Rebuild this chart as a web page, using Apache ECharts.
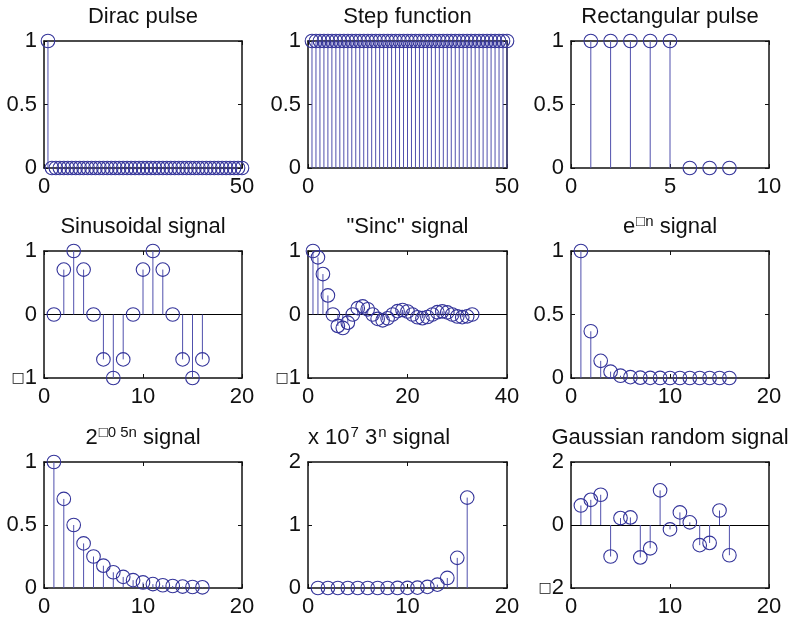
<!DOCTYPE html>
<html>
<head>
<meta charset="utf-8">
<script src="https://cdn.jsdelivr.net/npm/echarts@6/dist/echarts.min.js"></script>
<style>html,body{margin:0;padding:0;background:#fff}#c{width:794px;height:621px}</style>
</head>
<body>
<div id="c"></div>
<script>
// ---- data ----
const diracVals = [1,0,0,0,0,0,0,0,0,0, 0,0,0,0,0,0,0,0,0,0, 0,0,0,0,0,0,0,0,0,0, 0,0,0,0,0,0,0,0,0,0, 0,0,0,0,0,0,0,0,0,0];
const stepVals  = [1,1,1,1,1,1,1,1,1,1, 1,1,1,1,1,1,1,1,1,1, 1,1,1,1,1,1,1,1,1,1, 1,1,1,1,1,1,1,1,1,1, 1,1,1,1,1,1,1,1,1,1];
const rectVals  = [1,1,1,1,1,0,0,0];
const sinVals   = [0,0.707,1,0.707,0,-0.707,-1,-0.707,0,0.707,1,0.707,0,-0.707,-1,-0.707];
const sincVals  = [1,0.90,0.637,0.30,0,-0.18,-0.212,-0.129,0,0.10,0.127,0.082,0,-0.069,-0.091,-0.06,0,0.053,0.071,0.047,0,-0.043,-0.058,-0.039,0,0.036,0.049,0.033,0,-0.031,-0.042,-0.029,0];
const expVals   = [1,0.368,0.135,0.050,0.018,0.0067,0.0025,0.0009,0.0003,0.0001,0,0,0,0,0,0];
const pow2Vals  = [1,0.707,0.5,0.354,0.25,0.177,0.125,0.088,0.0625,0.044,0.031,0.022,0.016,0.011,0.0078,0.0055];
const pow3Vals  = [1,3,9,27,81,243,729,2187,6561,19683,59049,177147,531441,1594323,4782969,14348907];
const gaussVals = [0.62,0.80,0.96,-1.00,0.22,0.24,-1.03,-0.74,1.10,-0.14,0.40,0.085,-0.64,-0.57,0.46,-0.96];

const titles = [
  'Dirac pulse', 'Step function', 'Rectangular pulse',
  'Sinusoidal signal', '"Sinc" signal', '{n|e}{s|□n}{n| signal}',
  '{n|2}{s|□0 5n}{n| signal}', '{n|3}{s|n}{n| signal}', 'Gaussian random signal'
];
const xTicks = [[0,50,50],[0,50,50],[0,10,5],[0,20,10],[0,40,20],[0,20,10],[0,20,10],[0,20,10],[0,20,10]];
const yTicks = [[0,1,0.5],[0,1,0.5],[0,1,0.5],[-1,1,1],[-1,1,1],[0,1,0.5],[0,1,0.5],[0,2e7,1e7],[-2,2,2]];
const allVals = [diracVals, stepVals, rectVals, sinVals, sincVals, expVals, pow2Vals, pow3Vals, gaussVals];
const hasBaseline = [false,false,false,true,true,false,false,false,true];

// ---- layout ----
const colLeft = [44, 308, 571];
const colW = [198, 199, 198];
const rowTop = [41, 251, 462];
const rowH = [127, 127, 126];
const FONT = 'Liberation Sans, Arial, Helvetica, sans-serif';
const TXT = '#111';
const stemColor = '#5050ad';
const circColor = '#34349a';
const axisColor = '#111';

const grids = [], xAxes = [], yAxes = [], series = [], graphics = [];
for (let i = 0; i < 9; i++) {
  const r = Math.floor(i / 3), c = i % 3;
  grids.push({left: colLeft[c], top: rowTop[r], width: colW[c], height: rowH[r], containLabel: false});
  const [x0, x1, xi] = xTicks[i];
  const [y0, y1, yi] = yTicks[i];
  const lineStyle = {color: axisColor, width: 1.5};
  const tick = {show: true, inside: true, length: 4, lineStyle: {color: axisColor, width: 1}};
  const lab = {fontFamily: FONT, fontSize: 22, color: TXT};
  xAxes.push({gridIndex: i, type: 'value', min: x0, max: x1, interval: xi, position: 'bottom',
    axisLine: {show: true, onZero: false, lineStyle}, axisTick: tick, splitLine: {show: false},
    axisLabel: Object.assign({margin: 8, showMinLabel: true, showMaxLabel: true}, lab)});
  xAxes.push({gridIndex: i, type: 'value', min: x0, max: x1, interval: xi, position: 'top',
    axisLine: {show: true, onZero: false, lineStyle}, axisTick: tick, splitLine: {show: false},
    axisLabel: {show: false}});
  const isPow3 = (i === 7);
  yAxes.push({gridIndex: i, type: 'value', min: y0, max: y1, interval: yi, position: 'left',
    axisLine: {show: true, onZero: false, lineStyle}, axisTick: tick, splitLine: {show: false},
    axisLabel: Object.assign({margin: 7,
      formatter: v => {
        if (isPow3) v = v / 1e7;
        return v < 0 ? '{b|□}' + Math.abs(v) : String(v);
      },
      rich: {b: {fontSize: 14, fontWeight: 'bold', color: TXT, fontFamily: 'DejaVu Sans'}}
    }, lab)});
  yAxes.push({gridIndex: i, type: 'value', min: y0, max: y1, interval: yi, position: 'right',
    axisLine: {show: true, onZero: false, lineStyle}, axisTick: tick, splitLine: {show: false},
    axisLabel: {show: false}});
  const s = {
    type: 'custom', xAxisIndex: 2 * i, yAxisIndex: 2 * i, clip: false, z: 5,
    data: allVals[i].map((v, k) => [k + 1, v]),
    renderItem: (params, api) => {
      const p0 = api.coord([api.value(0), 0]);
      const p1 = api.coord([api.value(0), api.value(1)]);
      return {type: 'group', children: [
        {type: 'line', shape: {x1: p0[0], y1: p0[1], x2: p1[0], y2: p1[1]}, style: {stroke: stemColor, lineWidth: 1}},
        {type: 'circle', shape: {cx: p1[0], cy: p1[1], r: 6.8}, style: {fill: 'none', stroke: circColor, lineWidth: 1.1}}
      ]};
    }
  };
  if (hasBaseline[i]) {
    s.markLine = {silent: true, symbol: 'none', label: {show: false}, animation: false,
      lineStyle: {color: '#000', width: 1.2, type: 'solid'}, data: [{yAxis: 0}]};
  }
  series.push(s);
  graphics.push({type: 'text', x: colLeft[c] + colW[c] / 2, y: rowTop[r] - 24, z: 10,
    style: {text: titles[i], align: 'center', verticalAlign: 'middle', fontFamily: FONT, fontSize: 22, fill: TXT,
      rich: {n: {fontFamily: FONT, fontSize: 22, fill: TXT, lineHeight: 26},
             s: {fontFamily: FONT, fontSize: 15, fill: TXT, lineHeight: 26, verticalAlign: 'top', padding: [0, 0, 0, 1]}}}});
}
// exponent multiplier label of the 3^n plot
graphics.push({type: 'text', x: colLeft[1], y: rowTop[2] - 24, z: 10,
  style: {text: '{n|x 10}{s|7}', align: 'left', verticalAlign: 'middle',
    rich: {n: {fontFamily: FONT, fontSize: 22, fill: TXT, lineHeight: 26},
           s: {fontFamily: FONT, fontSize: 15, fill: TXT, lineHeight: 26, verticalAlign: 'top', padding: [0, 0, 0, 1]}}}});

const chart = echarts.init(document.getElementById('c'), null, {renderer: 'canvas'});
chart.setOption({animation: false, grid: grids, xAxis: xAxes, yAxis: yAxes, series, graphic: graphics});
</script>
</body>
</html>
